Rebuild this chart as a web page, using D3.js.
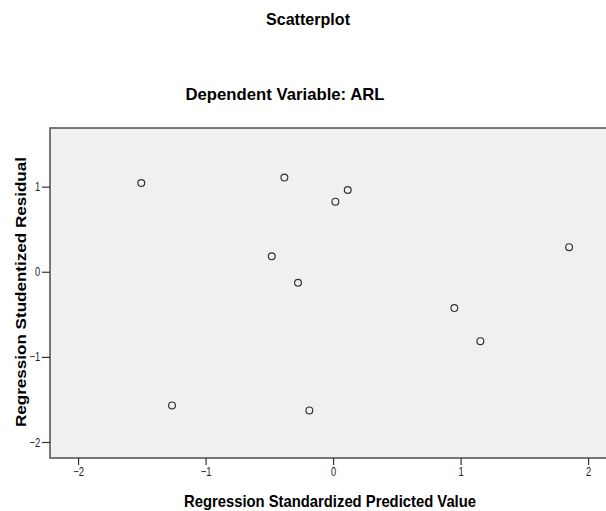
<!DOCTYPE html>
<meta charset="utf-8">
<head>
    <title>Scatterplot</title>
    <script src="https://d3js.org/d3.v7.min.js"></script>
</head>
<style type="text/css">
body { margin: 0; background: #ffffff; }
svg { display: block; font-family: "Liberation Sans", Arial, sans-serif; }
.tick text { font-size: 12.5px; fill: #222; }
</style>
<body>
    <svg id="chart" width="606" height="511"></svg>
    <script type="text/javascript">
        // predicted value (x) vs studentized residual (y)
        var predicted = [-1.504, -0.382, 0.115, 0.018, 1.851, -0.481, -0.275, 0.951, 1.155, -1.263, -0.186];
        var residual  = [1.043, 1.106, 0.961, 0.824, 0.289, 0.183, -0.130, -0.427, -0.815, -1.570, -1.629];
        var xTicks = [-2, -1, 0, 1, 2];
        var yTicks = [-2, -1, 0, 1];

        var svg = d3.select("#chart"),
            margin = {top: 128, right: -2, bottom: 53, left: 50},
            width = +svg.attr("width") - margin.left - margin.right,
            height = +svg.attr("height") - margin.top - margin.bottom;

        var x = d3.scaleLinear().domain([-2.22, 2.156]).range([0, width]);
        var y = d3.scaleLinear().domain([-2.188, 1.689]).range([height, 0]);

        var g = svg.append("g").attr("transform", "translate(" + margin.left + "," + margin.top + ")");

        // frame runs off the right edge, like the cropped original
        g.append("rect")
            .attr("width", width + 20)
            .attr("height", height)
            .attr("fill", "#f0f0f0")
            .attr("stroke", "#585858")
            .attr("stroke-width", 1.6);

        var xAxis = g.append("g")
            .attr("transform", "translate(0," + height + ")")
            .call(d3.axisBottom(x).tickValues(xTicks).tickFormat(d3.format("d"))
                .tickSize(7).tickSizeOuter(0).tickPadding(2));
        var yAxis = g.append("g")
            .call(d3.axisLeft(y).tickValues(yTicks).tickFormat(d3.format("d"))
                .tickSize(8).tickSizeOuter(0).tickPadding(2));
        [xAxis, yAxis].forEach(function(a) {
            a.select(".domain").remove();
            a.selectAll(".tick line").attr("stroke", "#333").attr("stroke-width", 1.2);
        });
        // the original is squeezed sideways, so narrow the digits
        xAxis.selectAll(".tick text").attr("transform", "scale(0.75,1)");
        yAxis.selectAll(".tick text").attr("x", -13).attr("transform", "scale(0.75,1)");

        g.selectAll("circle.pt")
            .data(predicted)
            .enter().append("circle")
            .attr("class", "pt")
            .attr("cx", function(d) { return x(d); })
            .attr("cy", function(d, i) { return y(residual[i]); })
            .attr("r", 3.4)
            .attr("fill", "none")
            .attr("stroke", "#333")
            .attr("stroke-width", 1.2);

        // titles
        svg.append("text")
            .attr("x", 308).attr("y", 25)
            .attr("text-anchor", "middle")
            .attr("textLength", 84).attr("lengthAdjust", "spacingAndGlyphs")
            .style("font-size", "16px").style("font-weight", "bold")
            .text("Scatterplot");
        svg.append("text")
            .attr("x", 285).attr("y", 100)
            .attr("text-anchor", "middle")
            .attr("textLength", 199).attr("lengthAdjust", "spacingAndGlyphs")
            .style("font-size", "17px").style("font-weight", "bold")
            .text("Dependent Variable: ARL");
        svg.append("text")
            .attr("x", 330).attr("y", 507)
            .attr("text-anchor", "middle")
            .attr("textLength", 292).attr("lengthAdjust", "spacingAndGlyphs")
            .style("font-size", "16.5px").style("font-weight", "bold")
            .text("Regression Standardized Predicted Value");
        svg.append("text")
            .attr("transform", "translate(26,292) rotate(-90) scale(1,0.85)")
            .attr("text-anchor", "middle")
            .attr("textLength", 270).attr("lengthAdjust", "spacingAndGlyphs")
            .style("font-size", "17px").style("font-weight", "bold")
            .text("Regression Studentized Residual");
    </script>
</body>
